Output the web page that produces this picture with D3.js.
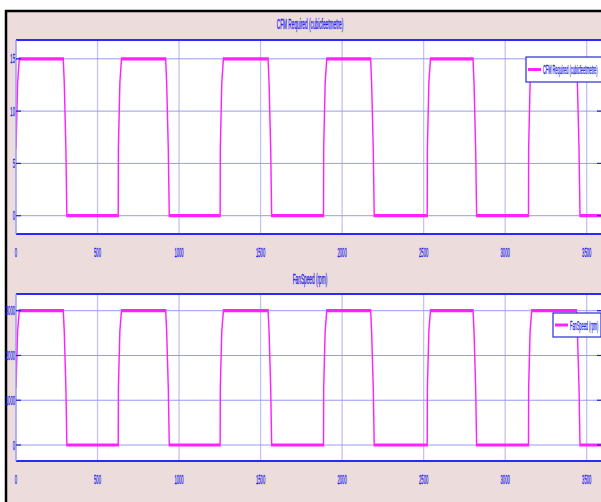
<!DOCTYPE html>
<html>
<head>
<meta charset="utf-8">
<script src="https://cdn.jsdelivr.net/npm/d3@7"></script>
<style>
  html, body { margin: 0; padding: 0; background: #ffffff; }
  svg { display: block; }
  text { font-family: "Liberation Sans", Arial, sans-serif; fill: #2626e6; stroke: #2626e6; stroke-width: 0.35; }
</style>
</head>
<body>
<script>
// ---------- data ----------
const timeSec = [
  0, 10, 20,
  290, 296, 306, 312,
  627, 628, 637, 647,
  918, 924, 934, 940,
  1252, 1253, 1262, 1272,
  1546, 1552, 1562, 1568,
  1886, 1887, 1896, 1906,
  2175, 2181, 2191, 2197,
  2522, 2523, 2532, 2542,
  2803, 2809, 2819, 2825,
  3143, 3144, 3153, 3163,
  3437, 3443, 3453, 3459,
  3600
];
const cfmRequired = [
  6.4, 12.7, 15,
  15, 12.7, 6.4, 0,
  0, 6.4, 12.7, 15,
  15, 12.7, 6.4, 0,
  0, 6.4, 12.7, 15,
  15, 12.7, 6.4, 0,
  0, 6.4, 12.7, 15,
  15, 12.7, 6.4, 0,
  0, 6.4, 12.7, 15,
  15, 12.7, 6.4, 0,
  0, 6.4, 12.7, 15,
  15, 12.7, 6.4, 0,
  0
];
const fanSpeedRpm = [
  1280, 2540, 3000,
  3000, 2540, 1280, 0,
  0, 1280, 2540, 3000,
  3000, 2540, 1280, 0,
  0, 1280, 2540, 3000,
  3000, 2540, 1280, 0,
  0, 1280, 2540, 3000,
  3000, 2540, 1280, 0,
  0, 1280, 2540, 3000,
  3000, 2540, 1280, 0,
  0, 1280, 2540, 3000,
  3000, 2540, 1280, 0,
  0
];
const xTicks = [0, 500, 1000, 1500, 2000, 2500, 3000, 3500];
const cfmTicks = [0, 5, 10, 15];
const fanTicks = [0, 1000, 2000, 3000];
const cfmTitle = "CFM Required (cubicfeetmetre)";
const fanTitle = "FanSpeed (rpm)";

// ---------- layout ----------
const W = 601, H = 502;
const SQ = 0.45;      // horizontal squish of the data line
const TS = 0.32;      // horizontal squish of text

const svg = d3.select("body").append("svg").attr("width", W).attr("height", H);
svg.append("rect").attr("x", 0).attr("y", 0).attr("width", W).attr("height", H).attr("fill", "#ffffff");
svg.append("rect").attr("x", 5).attr("y", 10).attr("width", W - 5).attr("height", H - 10).attr("fill", "#ecdcdc");
svg.append("line").attr("x1", 5).attr("x2", W).attr("y1", 11).attr("y2", 11).attr("stroke", "#000").attr("stroke-width", 2.5);
svg.append("line").attr("x1", 6).attr("x2", 6).attr("y1", 10).attr("y2", H).attr("stroke", "#000").attr("stroke-width", 2.5);

const x = d3.scaleLinear().domain([0, 3600]).range([16, 603]);
const xs = x.copy().range([16 / SQ, 603 / SQ]);

function sqText(g, px, py, str, size, anchor, scale) {
  return g.append("text")
    .attr("transform", `translate(${px},${py}) scale(${scale},1)`)
    .attr("text-anchor", anchor)
    .attr("font-size", size)
    .text(str);
}

const panels = [
  { top: 40, bottom: 234, domain: [-1.75, 16.8], ticks: cfmTicks, values: cfmRequired,
    title: cfmTitle, titleY: 29, xLabY: 257,
    leg: { x: 526, y: 57, w: 76, h: 25 } },
  { top: 294, bottom: 461, domain: [-357, 3373], ticks: fanTicks, values: fanSpeedRpm,
    title: fanTitle, titleY: 284, xLabY: 484,
    leg: { x: 553, y: 313, w: 48, h: 24 } }
];

panels.forEach((p, i) => {
  const g = svg.append("g");
  const y = d3.scaleLinear().domain(p.domain).range([p.bottom, p.top]);
  const left = 16, right = 603;

  g.append("rect").attr("x", left).attr("y", p.top).attr("width", right - left).attr("height", p.bottom - p.top)
    .attr("fill", "#ffffff");

  // vertical grid
  g.selectAll(".vg").data(xTicks).join("line")
    .attr("x1", d => x(d)).attr("x2", d => x(d))
    .attr("y1", p.top).attr("y2", p.bottom)
    .attr("stroke", "#c2c2f4").attr("stroke-width", 1.3);
  // horizontal grid
  g.selectAll(".hg").data(p.ticks).join("line")
    .attr("x1", left).attr("x2", right)
    .attr("y1", d => y(d)).attr("y2", d => y(d))
    .attr("stroke", "#9a9aee").attr("stroke-width", 1);

  // data line (squished horizontally so vertical strokes are thin)
  const clipId = "clip" + i;
  svg.append("clipPath").attr("id", clipId).append("rect")
    .attr("x", left).attr("y", p.top).attr("width", right - left).attr("height", p.bottom - p.top);
  const pts = timeSec.map((t, k) => [t, p.values[k]]);
  const line = d3.line().x(d => xs(d[0])).y(d => y(d[1]));
  g.append("g").attr("clip-path", `url(#${clipId})`)
    .append("g").attr("transform", `scale(${SQ},1)`)
    .append("path").datum(pts)
    .attr("d", line).attr("fill", "none")
    .attr("stroke", "#ff22ff").attr("stroke-width", 3.2).attr("stroke-linejoin", "miter");

  // axes border
  g.append("line").attr("x1", left).attr("x2", right).attr("y1", p.top).attr("y2", p.top)
    .attr("stroke", "#2a2aff").attr("stroke-width", 2);
  g.append("line").attr("x1", left).attr("x2", right).attr("y1", p.bottom).attr("y2", p.bottom)
    .attr("stroke", "#2a2aff").attr("stroke-width", 2);
  g.append("line").attr("x1", left).attr("x2", left).attr("y1", p.top).attr("y2", p.bottom)
    .attr("stroke", "#9a9af4").attr("stroke-width", 1.2);

  // y ticks (inward) and labels
  g.selectAll(".yt").data(p.ticks).join("line")
    .attr("x1", left).attr("x2", left + 5)
    .attr("y1", d => y(d)).attr("y2", d => y(d))
    .attr("stroke", "#2222cc").attr("stroke-width", 1.2);
  g.selectAll(".ytr").data(p.ticks).join("line")
    .attr("x1", 597).attr("x2", 603)
    .attr("y1", d => y(d)).attr("y2", d => y(d))
    .attr("stroke", "#2222cc").attr("stroke-width", 1.2);
  p.ticks.forEach(t => sqText(g, 15, y(t) + 4.5, String(t), 13, "end", TS));

  // x labels
  xTicks.forEach(t => sqText(g, x(t), p.xLabY, String(t), 13, "middle", TS));

  // title
  sqText(g, 310, p.titleY, p.title, 14, "middle", 0.34);

  // legend
  const L = p.leg;
  g.append("rect").attr("x", L.x).attr("y", L.y).attr("width", L.w).attr("height", L.h)
    .attr("fill", "#ffffff").attr("stroke", "#2a2ad8").attr("stroke-width", 1.2);
  g.append("line").attr("x1", L.x + 2).attr("x2", L.x + 15)
    .attr("y1", L.y + L.h / 2).attr("y2", L.y + L.h / 2)
    .attr("stroke", "#ff22ff").attr("stroke-width", 3);
  sqText(g, L.x + 17, L.y + L.h / 2 + 4.5, p.title, 13, "start", 0.3);
});
</script>
</body>
</html>
